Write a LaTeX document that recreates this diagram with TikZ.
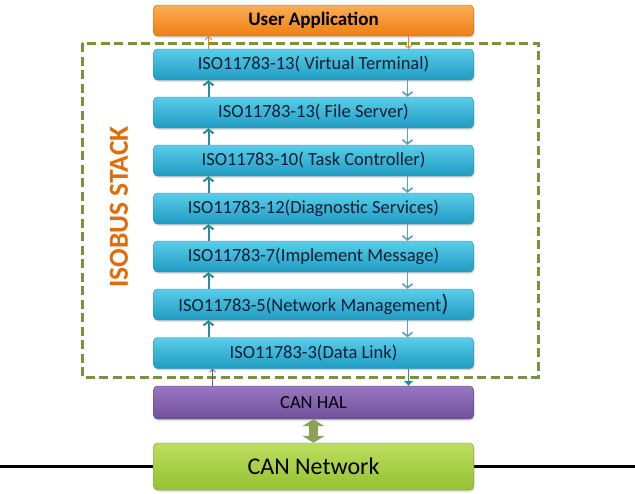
\documentclass[tikz,border=0pt]{standalone}
\usepackage{fontspec}
\setmainfont{Carlito}
\usetikzlibrary{arrows.meta}
\usetikzlibrary{shadows}

\definecolor{layerblue}{HTML}{1F9BC2}
\definecolor{layerbluetop}{HTML}{5ACDEA}
\definecolor{layeredge}{HTML}{2A88AC}
\definecolor{apporange}{HTML}{EE7E12}
\definecolor{apporangetop}{HTML}{FAAE55}
\definecolor{halpurple}{HTML}{70509C}
\definecolor{halpurpletop}{HTML}{9777C0}
\definecolor{netgreen}{HTML}{95C132}
\definecolor{netgreentop}{HTML}{BCDE5E}
\definecolor{stackgreen}{HTML}{77933C}
\definecolor{flowteal}{HTML}{2E8AA3}
\definecolor{stackorange}{HTML}{E36C0A}
\definecolor{textnavy}{HTML}{0F1E33}

\tikzset{
  layer/.style={rounded corners=4pt, minimum width=320pt, minimum height=31pt,
    inner sep=0pt, draw=layeredge, top color=layerbluetop, bottom color=layerblue,
    text=textnavy, font=\fontsize{18.5}{22}\selectfont,
    drop shadow={shadow xshift=1pt, shadow yshift=-1.5pt, opacity=0.35}},
  uparr/.style={flowteal, line width=2pt, -{Straight Barb[length=4pt,width=10pt]}},
  downarr/.style={flowteal!80, line width=1.6pt, -{Straight Barb[length=4pt,width=10pt]}}
}

\begin{document}
\begin{tikzpicture}[x=1pt, y=-1pt]
    \useasboundingbox (0,0) rectangle (635,493);
    % bus line
    \coordinate (busl) at (0,466.5);
    \coordinate (busr) at (635,466.5);
    \draw[line width=3.5pt] (busl) -- (busr);
    % stack border
    \draw[stackgreen, line width=3pt, dash pattern=on 9pt off 4.5pt] (82,43) rectangle (538,377);
    \node[rotate=90, text=stackorange, font=\bfseries\fontsize{27.5}{30}\selectfont] (stack) at (119,207) {ISOBUS STACK};
    % layers
    \node[layer, draw=apporange!80!black, top color=apporangetop, bottom color=apporange, text=black,
      font=\bfseries\fontsize{19}{22}\selectfont] (app) at (313.5,20.5) {User Application};
    \node[layer] (vt) at (313.5,64.5) {ISO11783-13( Virtual Terminal)};
    \node[layer] (fs) at (313.5,112.5) {ISO11783-13( File Server)};
    \node[layer] (tc) at (313.5,160.5) {ISO11783-10( Task Controller)};
    \node[layer] (ds) at (313.5,208.5) {ISO11783-12(Diagnostic Services)};
    \node[layer] (im) at (313.5,256.5) {ISO11783-7(Implement Message)};
    \node[layer] (nm) at (313.5,304.5) {ISO11783-5(Network Management{\fontsize{24}{24}\selectfont)}};
    \node[layer] (dl) at (313.5,353) {ISO11783-3(Data Link)};
    \node[layer, minimum height=33pt, draw=halpurple!80!black, top color=halpurpletop, bottom color=halpurple,
      text=black] (hal) at (313.5,402.5) {CAN HAL};
    \node[layer, minimum height=47pt, draw=netgreen!80!black, top color=netgreentop, bottom color=netgreen,
      text=black, font=\fontsize{24}{28}\selectfont] (net) at (313.5,466.5) {CAN Network};
    % flows
    \draw[apporange, line width=0.8pt, -{Straight Barb[length=3pt,width=7pt]}] ([xshift=-105pt]vt.north) -- ([xshift=-105pt]app.south);
    \draw[apporange, line width=0.8pt, -{Straight Barb[length=3pt,width=7pt]}] ([xshift=95pt]app.south) -- ([xshift=95pt]vt.north);
    \draw[uparr] ([xshift=-105pt]fs.north) -- ([xshift=-105pt]vt.south);
    \draw[downarr] ([xshift=94pt]vt.south) -- ([xshift=94pt]fs.north);
    \draw[uparr] ([xshift=-105pt]tc.north) -- ([xshift=-105pt]fs.south);
    \draw[downarr] ([xshift=94pt]fs.south) -- ([xshift=94pt]tc.north);
    \draw[uparr] ([xshift=-105pt]ds.north) -- ([xshift=-105pt]tc.south);
    \draw[downarr] ([xshift=94pt]tc.south) -- ([xshift=94pt]ds.north);
    \draw[uparr] ([xshift=-105pt]im.north) -- ([xshift=-105pt]ds.south);
    \draw[downarr] ([xshift=94pt]ds.south) -- ([xshift=94pt]im.north);
    \draw[uparr] ([xshift=-105pt]nm.north) -- ([xshift=-105pt]im.south);
    \draw[downarr] ([xshift=94pt]im.south) -- ([xshift=94pt]nm.north);
    \draw[uparr] ([xshift=-105pt]dl.north) -- ([xshift=-105pt]nm.south);
    \draw[downarr] ([xshift=94pt]nm.south) -- ([xshift=94pt]dl.north);
    \draw[halpurple, line width=0.7pt, -{Straight Barb[length=3pt,width=6pt]}] ([xshift=-101pt]hal.north) -- ([xshift=-101pt]dl.south);
    \draw[flowteal, line width=1.8pt, -{Triangle[length=5pt,width=9pt]}] ([xshift=95pt]dl.south) -- ([xshift=95pt]hal.north);
    % hal to network
    \draw[stackgreen!85, line width=9pt, {Triangle[length=7pt,width=22pt]}-{Triangle[length=7pt,width=22pt]}] (hal.south) -- (net.north);
  \end{tikzpicture}
\end{document}
